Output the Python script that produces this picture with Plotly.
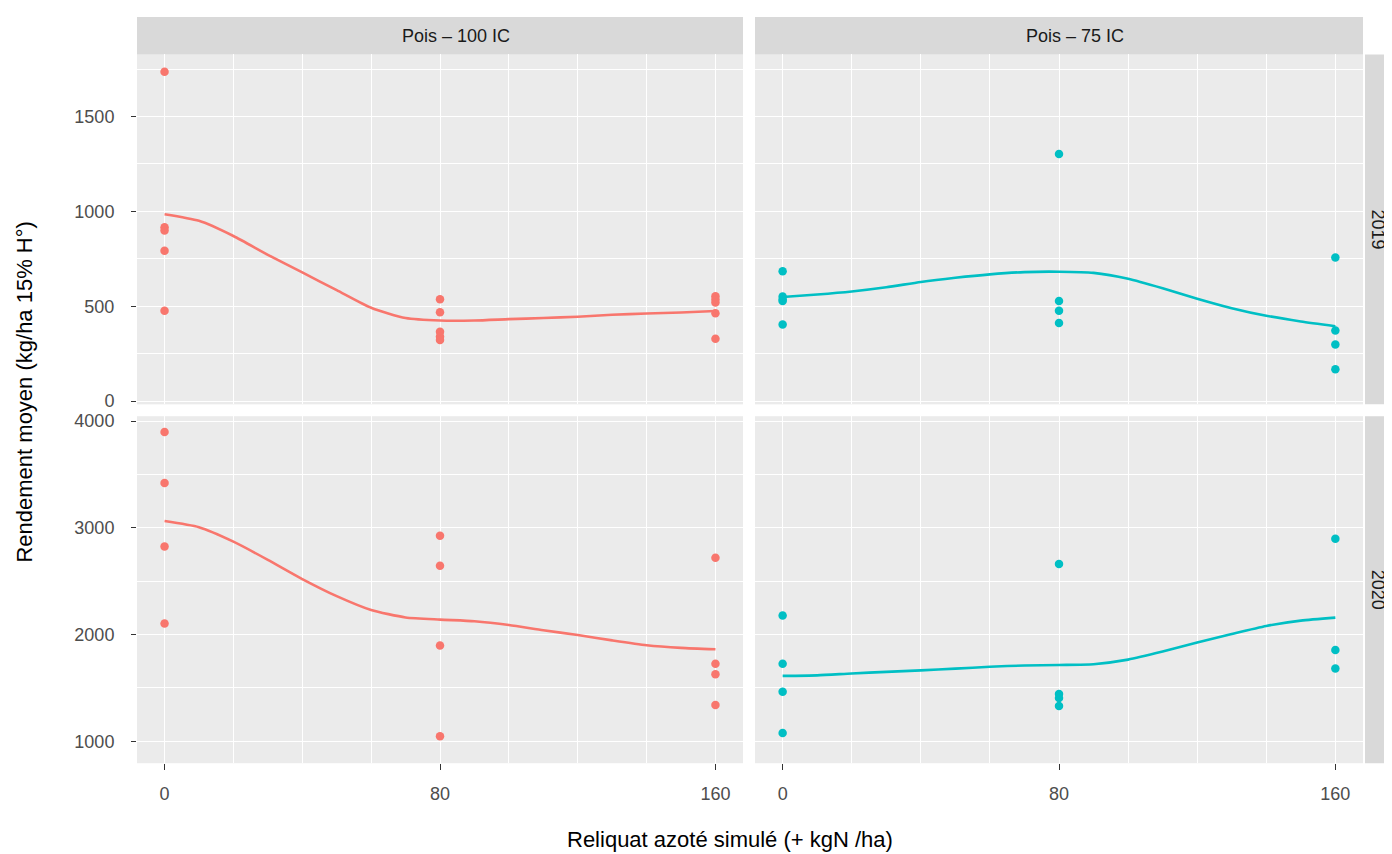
import plotly.graph_objects as go

# ---------------- data ----------------
doses = [0, 80, 160]
varieties = ["Pois – 100 IC", "Pois – 75 IC"]
years = ["2019", "2020"]

# observed yields (kg/ha) per dose
pts_2019_100 = {0: [1735, 916, 899, 792, 476], 80: [537, 468, 365, 340, 322], 160: [553, 535, 520, 463, 329]}
pts_2019_75 = {0: [684, 551, 535, 528, 404], 80: [1302, 528, 476, 412], 160: [757, 372, 298, 168]}
pts_2020_100 = {0: [3898, 3421, 2824, 2103], 80: [2926, 2645, 1897, 1046], 160: [2720, 1726, 1627, 1340]}
pts_2020_75 = {0: [2179, 1726, 1464, 1078], 80: [2660, 1443, 1406, 1329], 160: [2898, 1854, 1681]}

# smoothed (loess) curves
smooth_x = [0, 10, 20, 30, 40, 50, 60, 70, 80, 90, 100, 110, 120, 130, 140, 150, 160]
smooth_2019_100 = [985, 950, 870, 771, 678, 585, 492, 438, 425, 425, 432, 438, 445, 455, 462, 467, 475]
smooth_2019_75 = [549, 562, 578, 600, 628, 650, 668, 680, 682, 676, 645, 595, 540, 490, 450, 420, 395]
smooth_2020_100 = [3063, 3005, 2870, 2700, 2520, 2360, 2230, 2160, 2140, 2125, 2090, 2040, 1995, 1945, 1900, 1875, 1862]
smooth_2020_75 = [1612, 1617, 1635, 1650, 1664, 1680, 1698, 1710, 1715, 1722, 1765, 1840, 1925, 2005, 2080, 2130, 2158]

x_tick_vals = [0, 80, 160]
x_minor_vals = [20, 40, 60, 100, 120, 140]
y_top_ticks = [0, 500, 1000, 1500]
y_top_minor = [250, 750, 1250, 1750]
y_bot_ticks = [1000, 2000, 3000, 4000]
y_bot_minor = [1500, 2500, 3500]

RED = "#F8766D"
TEAL = "#00BFC4"

# the page body has an 8px margin: the figure is drawn from (8, 8)
OFF = 8
W, H = 1392 - OFF, 854 - OFF


def px_x(p):
    return (p - OFF) / W


def px_y(p):
    return 1 - (p - OFF) / H


panels = [
    ("x", "y", pts_2019_100, smooth_2019_100, RED),
    ("x2", "y2", pts_2019_75, smooth_2019_75, TEAL),
    ("x3", "y3", pts_2020_100, smooth_2020_100, RED),
    ("x4", "y4", pts_2020_75, smooth_2020_75, TEAL),
]

fig = go.Figure()
for xa, ya, pts, sm, col in panels:
    xs, ys = [], []
    for d in doses:
        xs += [d] * len(pts[d])
        ys += pts[d]
    fig.add_trace(go.Scatter(x=xs, y=ys, mode="markers", xaxis=xa, yaxis=ya,
                             marker=dict(color=col, size=8.5, line=dict(width=0)),
                             showlegend=False, hoverinfo="x+y"))
    fig.add_trace(go.Scatter(x=smooth_x, y=sm, mode="lines", xaxis=xa, yaxis=ya,
                             line=dict(color=col, width=2.6, shape="spline", smoothing=0.6),
                             showlegend=False, hoverinfo="skip"))

xL = [px_x(137), px_x(743)]
xR = [px_x(755), px_x(1363)]
yT = [px_y(405), px_y(50)]
yB = [px_y(769), px_y(417)]

tick_font = dict(family="Liberation Sans, Arial, sans-serif", size=18, color="#4D4D4D")


def xaxis(domain, anchor, labels):
    return dict(domain=domain, anchor=anchor, range=[-8, 168], tickmode="array",
                tickvals=x_tick_vals, ticktext=[str(v) for v in x_tick_vals],
                showticklabels=labels, ticks="outside" if labels else "",
                ticklen=6, tickwidth=1, tickcolor="#333333", ticklabelstandoff=8,
                showgrid=True, gridcolor="white", gridwidth=1.3, zeroline=False,
                showline=False, tickfont=tick_font,
                minor=dict(tickmode="array", tickvals=x_minor_vals, showgrid=True,
                           gridcolor="white", gridwidth=0.8, ticks=""))


def yaxis(domain, anchor, rng, ticks, minor, labels):
    return dict(domain=domain, anchor=anchor, range=rng, tickmode="array",
                tickvals=ticks, ticktext=[str(v) for v in ticks],
                showticklabels=labels, ticks="outside" if labels else "",
                ticklen=5, tickwidth=1, tickcolor="#333333", ticklabelstandoff=13,
                showgrid=True, gridcolor="white", gridwidth=1.3, zeroline=False,
                showline=False, tickfont=tick_font,
                minor=dict(tickmode="array", tickvals=minor, showgrid=True,
                           gridcolor="white", gridwidth=0.7, ticks=""))


fig.update_layout(
    width=W, height=H, margin=dict(l=0, r=0, t=0, b=0),
    paper_bgcolor="white", plot_bgcolor="#EBEBEB",
    font=dict(family="Liberation Sans, Arial, sans-serif"),
    xaxis=xaxis(xL, "y", False),
    xaxis2=xaxis(xR, "y2", False),
    xaxis3=xaxis(xL, "y3", True),
    xaxis4=xaxis(xR, "y4", True),
    yaxis=yaxis(yT, "x", [-17, 1827], y_top_ticks, y_top_minor, True),
    yaxis2=yaxis(yT, "x2", [-17, 1827], y_top_ticks, y_top_minor, False),
    yaxis3=yaxis(yB, "x3", [794, 4046], y_bot_ticks, y_bot_minor, True),
    yaxis4=yaxis(yB, "x4", [794, 4046], y_bot_ticks, y_bot_minor, False),
)

STRIP = "#D9D9D9"
shapes = []
annotations = []
for dom, label in zip([xL, xR], varieties):
    shapes.append(dict(type="rect", xref="paper", yref="paper", x0=dom[0], x1=dom[1],
                       y0=px_y(50), y1=px_y(12), fillcolor=STRIP, line=dict(width=0), layer="below"))
    annotations.append(dict(xref="paper", yref="paper", x=(dom[0] + dom[1]) / 2 + 16 / W,
                            y=px_y(31), text=label, showarrow=False, xanchor="center", yanchor="middle",
                            font=dict(size=18, color="#1A1A1A")))
for dom, label in zip([yT, yB], years):
    shapes.append(dict(type="rect", xref="paper", yref="paper", x0=px_x(1365), x1=1.0,
                       y0=dom[0], y1=dom[1], fillcolor=STRIP, line=dict(width=0), layer="below"))
    annotations.append(dict(xref="paper", yref="paper", x=px_x(1378), y=(dom[0] + dom[1]) / 2,
                            text=label, showarrow=False, textangle=90, xanchor="center", yanchor="middle",
                            font=dict(size=18, color="#1A1A1A")))
annotations.append(dict(xref="paper", yref="paper", x=px_x(730), y=px_y(846),
                        text="Reliquat azoté simulé (+ kgN /ha)", showarrow=False,
                        xanchor="center", yanchor="middle", font=dict(size=22, color="black")))
annotations.append(dict(xref="paper", yref="paper", x=px_x(25), y=px_y(393),
                        text="Rendement moyen (kg/ha 15% H°)", showarrow=False, textangle=-90,
                        xanchor="center", yanchor="middle", font=dict(size=22, color="black")))

fig.update_layout(shapes=shapes, annotations=annotations)
fig.write_html("out.html")
